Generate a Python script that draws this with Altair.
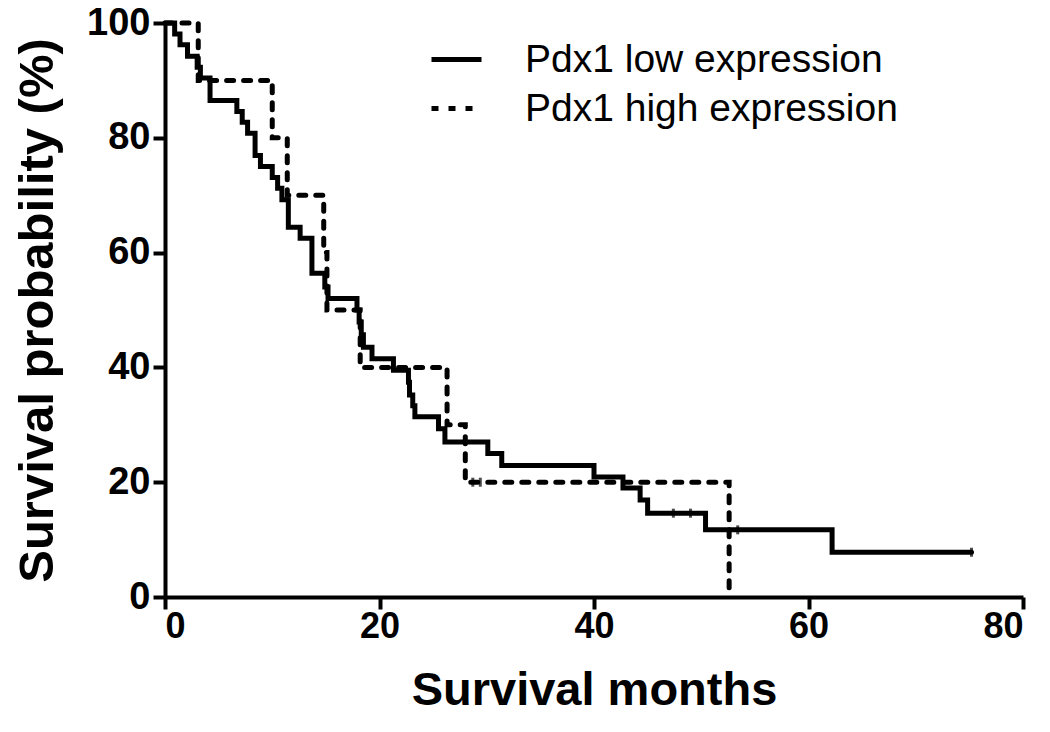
import altair as alt
import pandas as pd

# Pdx1 low expression (solid) – Kaplan-Meier steps
low_months = [0, 0.9, 1.4, 2.1, 3.0, 3.3, 4.2, 6.7, 7.2, 7.7, 8.4, 8.9, 10.0, 10.5, 10.9,
              11.5, 12.6, 13.7, 14.9, 15.2, 17.9, 18.1, 18.3, 18.5, 19.3, 21.3, 22.7, 22.8,
              23.1, 23.3, 25.5, 26.1, 30.1, 31.4, 40.0, 42.7, 44.3, 45.0, 50.4, 62.2, 75.2]
low_surv = [100, 98.1, 96.2, 94.2, 92.3, 90.4, 86.5, 84.6, 82.7, 80.8, 76.9, 75.0, 73.1, 71.2, 69.2,
            64.4, 62.5, 56.4, 54.0, 52.0, 50.0, 47.9, 45.7, 43.5, 41.5, 39.5, 37.4, 35.2,
            33.3, 31.4, 29.3, 27.0, 25.0, 22.9, 20.9, 19.0, 16.9, 14.6, 11.7, 7.8, 7.8]

# Pdx1 high expression (dashed)
high_months = [0, 3.1, 10.0, 11.4, 14.8, 15.1, 18.2, 26.3, 28.0, 52.6]
high_surv = [100, 90, 80, 70, 60, 50, 40, 30, 20, 0]

# censored observations
low_censor_months = [47.4, 49.0, 53.4, 75.2]
low_censor_surv = [14.6, 14.6, 11.7, 7.8]
high_censor_months = [28.7, 29.4]
high_censor_surv = [20, 20]

groups = ["Pdx1 low expression", "Pdx1 high expression"]
x_ticks = [0, 20, 40, 60, 80]
y_ticks = [0, 20, 40, 60, 80, 100]

curves = pd.concat([
    pd.DataFrame({"month": low_months, "surv": low_surv, "group": groups[0], "ord": range(len(low_months))}),
    pd.DataFrame({"month": high_months, "surv": high_surv, "group": groups[1], "ord": range(len(high_months))}),
])
cens = pd.concat([
    pd.DataFrame({"month": low_censor_months, "surv": low_censor_surv, "group": groups[0]}),
    pd.DataFrame({"month": high_censor_months, "surv": high_censor_surv, "group": groups[1]}),
])

FONT = "Liberation Sans, Arial, Helvetica, sans-serif"

xscale = alt.Scale(domain=[0, 80], nice=False)
yscale = alt.Scale(domain=[0, 100], nice=False)

xaxis = alt.Axis(values=x_ticks, title="Survival months", grid=False,
                 domainColor="black", domainWidth=4, tickColor="black", tickWidth=4, tickSize=12,
                 labelFont=FONT, labelFontSize=36, labelFontWeight="bold", labelColor="black",
                 labelPadding=0, titleFont=FONT, titleFontSize=47, titleFontWeight="bold",
                 titleColor="black", titleY=93, titleBaseline="middle")
yaxis = alt.Axis(values=y_ticks, title="Survival probability (%)", grid=False,
                 domainColor="black", domainWidth=4, tickColor="black", tickWidth=4, tickSize=12,
                 labelFont=FONT, labelFontSize=38, labelFontWeight="bold", labelColor="black",
                 labelPadding=3, labelBaseline="middle",
                 titleFont=FONT, titleFontSize=49, titleFontWeight="bold",
                 titleColor="black", titleX=-128, titleBaseline="middle")

dash = alt.StrokeDash(
    "group:N",
    scale=alt.Scale(domain=groups, range=[[1, 0], [7, 10]]),
    legend=alt.Legend(title=None, orient="none", legendX=264, legendY=9,
                      symbolType="stroke", symbolSize=2500, symbolStrokeWidth=5,
                      symbolStrokeColor="black", labelFont=FONT, labelFontSize=39,
                      labelFontWeight="normal", labelColor="black", labelOffset=41,
                      labelLimit=0, rowPadding=1, symbolOffset=0),
)

lines = alt.Chart(curves).mark_line(
    interpolate="step-after", color="black", strokeWidth=5, strokeCap="round", strokeJoin="miter"
).encode(
    x=alt.X("month:Q", scale=xscale, axis=xaxis),
    y=alt.Y("surv:Q", scale=yscale, axis=yaxis),
    strokeDash=dash,
    detail="group:N",
    order="ord:Q",
)

ticks = alt.Chart(cens).mark_tick(orient="vertical", color="black", size=9, thickness=3).encode(
    x=alt.X("month:Q", scale=xscale),
    y=alt.Y("surv:Q", scale=yscale),
)

chart = alt.layer(lines, ticks).properties(
    width=858, height=574,
    autosize=alt.AutoSizeParams(type="none"),
    padding={"left": 157, "top": 15, "right": 19, "bottom": 127},
    background="white",
).configure_view(stroke=None)

chart.save("out.html", embed_options={"renderer": "svg", "actions": False})
